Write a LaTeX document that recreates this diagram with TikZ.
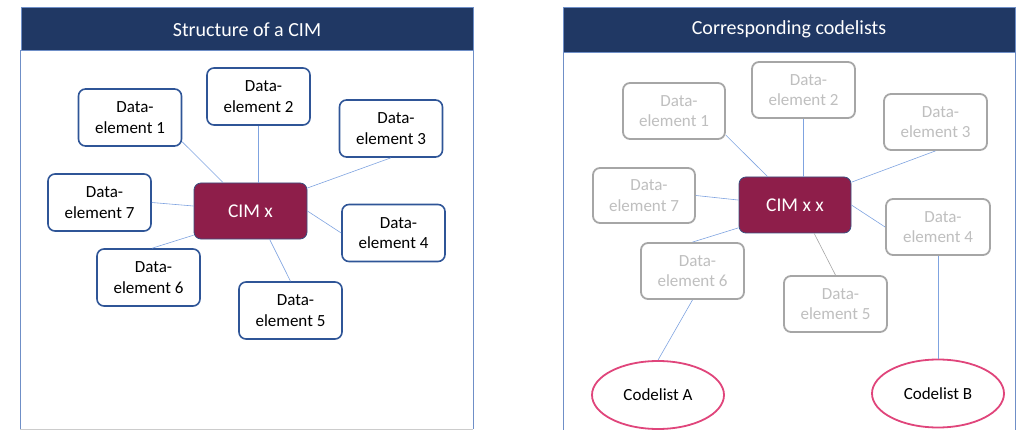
\documentclass[tikz,border=0pt]{standalone}
\usepackage{fontspec}
\setmainfont{Carlito}
\usetikzlibrary{shapes.geometric}
\definecolor{navy}{HTML}{203864}
\definecolor{maroon}{HTML}{8E1E4A}
\definecolor{deblue}{HTML}{2F5597}
\definecolor{degrey}{HTML}{A6A6A6}
\definecolor{detext}{HTML}{BFBFBF}
\definecolor{pinkish}{HTML}{E0457B}
\definecolor{linkblue}{HTML}{7FA3E0}
\definecolor{panelblue}{HTML}{6F8FC7}
\definecolor{cimborder}{HTML}{3A4F80}
\tikzset{
  debox/.style={draw=deblue, line width=1.6pt, rounded corners=7pt, fill=white,
    minimum width=103pt, minimum height=57pt, inner sep=0pt, align=center,
    font=\fontsize{17}{20.5}\selectfont, text=black},
  dgbox/.style={debox, draw=degrey, line width=1.8pt, text=detext},
  cimbox/.style={draw=cimborder, line width=0.8pt, fill=maroon, rounded corners=7pt,
    minimum width=113pt, minimum height=56pt, inner sep=0pt, text=white,
    font=\fontsize{19.5}{22}\selectfont},
  clell/.style={ellipse, draw=pinkish, line width=1.8pt, fill=white,
    minimum width=132pt, minimum height=68pt, inner sep=0pt,
    font=\fontsize{17}{20}\selectfont, text=black},
  link/.style={draw=linkblue, line width=0.6pt},
  glink/.style={draw=degrey, line width=0.6pt},
  header/.style={fill=navy, draw=panelblue, line width=0.6pt},
  title/.style={text=white, font=\fontsize{20}{23}\selectfont}
}
\newcommand{\delabel}[1]{\hspace*{10pt}Data-\\element #1}
\begin{document}
\begin{tikzpicture}[x=1pt,y=-1pt]
\useasboundingbox (0,0) rectangle (1024,430);
% left panel
\draw[draw=panelblue, line width=0.8pt] (20,50) -- (20,429);
\draw[draw=panelblue, line width=0.8pt] (473,50) -- (473,429);
\draw[draw=black!20, line width=0.8pt] (20,429) -- (473,429);
\draw[header] (21,7) rectangle (473,50);
\node[title] (t1) at (247,29.5) {Structure of a CIM};
% right panel
\draw[draw=panelblue, line width=0.8pt] (563,52) -- (563,432);
\draw[draw=panelblue, line width=0.8pt] (1015,52) -- (1015,432);
\draw[header] (563,7) rectangle (1015,52);
\node[title] (t2) at (789,29.5) {Corresponding codelists};

% left nodes
\node[cimbox] (cimL) at (250.5,211) {CIM x};
\node[debox] (l1) at (130,117.5) {\delabel{1}};
\node[debox] (l2) at (258.5,96.5) {\delabel{2}};
\node[debox] (l3) at (391,128.5) {\delabel{3}};
\node[debox] (l7) at (99.5,202.5) {\delabel{7}};
\node[debox] (l4) at (393.5,233) {\delabel{4}};
\node[debox] (l6) at (148.5,277.5) {\delabel{6}};
\node[debox] (l5) at (290.5,310.5) {\delabel{5}};
% left links
\draw[link] (l1.-25) -- (cimL.134);
\draw[link] (l2.south) -- (l2.south |- cimL.north);
\draw[link] (l3.south) -- (cimL.22);
\draw[link] (l7.east) -- (cimL.175);
\draw[link] (cimL.east) -- (l4.west);
\draw[link] (cimL.-157) -- (l6.83);
\draw[link] (cimL.-56) -- (l5.north);

% right nodes
\node[cimbox, minimum width=112pt] (cimR) at (795,205) {CIM x x};
\node[dgbox, minimum width=102pt, minimum height=56pt] (r1) at (674,111) {\delabel{1}};
\node[dgbox, minimum height=56pt] (r2) at (803.5,90) {\delabel{2}};
\node[dgbox, minimum height=56pt] (r3) at (935.5,122) {\delabel{3}};
\node[dgbox, minimum width=102pt, minimum height=55pt] (r7) at (644,195.5) {\delabel{7}};
\node[dgbox, minimum width=104pt, minimum height=56pt] (r4) at (938,227) {\delabel{4}};
\node[dgbox, minimum height=56pt] (r6) at (692.5,271) {\delabel{6}};
\node[dgbox, minimum height=56pt] (r5) at (835.5,304) {\delabel{5}};
\node[clell] (ca) at (658,395) {Codelist A};
\node[clell] (cb) at (938,393.5) {Codelist B};
% right links
\draw[link] (r1.-25) -- (cimR.134);
\draw[link] (r2.south) -- (r2.south |- cimR.north);
\draw[link] (r3.south) -- (cimR.22);
\draw[link] (r7.east) -- (cimR.175);
\draw[link] (cimR.east) -- (r4.west);
\draw[link] (cimR.-158) -- (r6.north);
\draw[glink] (cimR.-56) -- (r5.north);
\draw[link] (r6.south) -- (ca.north);
\draw[link] (r4.south) -- (cb.north);
\end{tikzpicture}
\end{document}
